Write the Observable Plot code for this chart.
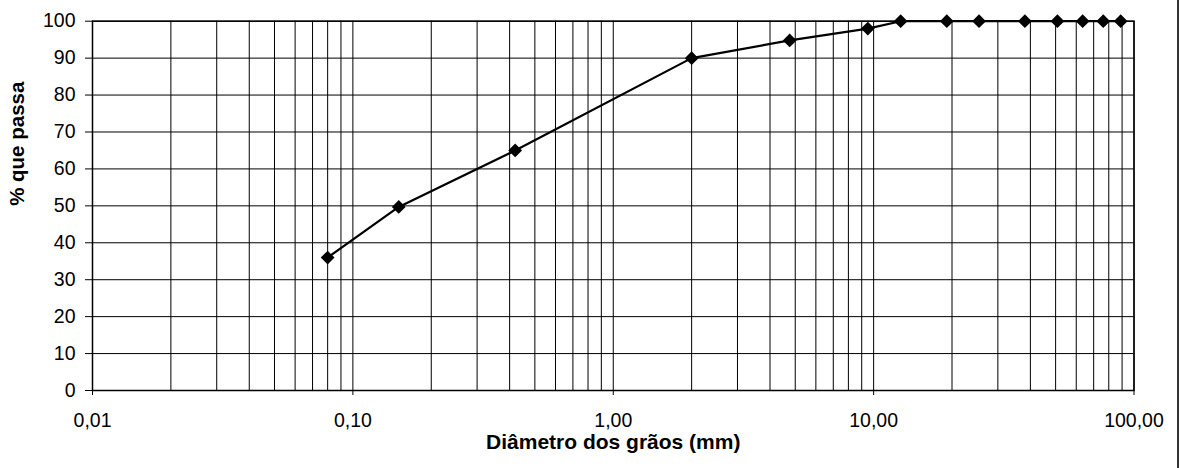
<!DOCTYPE html>
<html>
<head>
<meta charset="utf-8">
<script src="https://cdn.jsdelivr.net/npm/d3@7"></script>
<script src="https://cdn.jsdelivr.net/npm/@observablehq/plot@0.6"></script>
<style>
  html, body { margin: 0; padding: 0; background: #fff; }
  #wrap { position: relative; width: 1180px; height: 468px; overflow: hidden; }
  #edge { position: absolute; left: 1177px; top: 0; width: 2px; height: 468px; background: #333; }
</style>
</head>
<body>
<div id="wrap"><div id="edge"></div></div>
<script>
// Data (grain size in mm, % passing)
const sizes   = [0.08, 0.15, 0.42, 2.0, 4.76, 9.5, 12.7, 19.1, 25.4, 38.1, 50.8, 63.5, 76.2, 88.9];
const passing = [36, 49.7, 65, 90, 94.8, 98, 100, 100, 100, 100, 100, 100, 100, 100];

const xTicks = [0.01, 0.1, 1, 10, 100];
const xTickLabels = ["0,01", "0,10", "1,00", "10,00", "100,00"];
const yTicks = [0, 10, 20, 30, 40, 50, 60, 70, 80, 90, 100];
const xTitle = "Diâmetro dos grãos (mm)";
const yTitle = "% que passa";

const data = sizes.map((s, i) => ({size: s, pass: passing[i]}));

// log-scale grid lines (1..9 x each decade)
const xGrid = [];
for (const d of xTicks.slice(0, -1)) for (let k = 1; k <= 9; k++) xGrid.push(k * d);
xGrid.push(100);

const chart = Plot.plot({
  width: 1180,
  height: 468,
  marginLeft: 92,
  marginRight: 46.5,
  marginTop: 20.7,
  marginBottom: 78,
  x: {type: "log", domain: [0.01, 100]},
  y: {domain: [0, 100]},
  style: {fontFamily: "'Liberation Sans', Arial, sans-serif", fontSize: "19.5px", color: "#000", background: "transparent"},
  marks: [
    Plot.ruleX(xGrid, {stroke: "#000", strokeWidth: 1}),
    Plot.ruleY(yTicks, {stroke: "#000", strokeWidth: 1}),
    Plot.frame({stroke: "#000", strokeWidth: 1.5}),
    Plot.axisY({ticks: yTicks, tickSize: 7, tickPadding: 10, label: null, fontSize: 19.5}),
    Plot.axisX({ticks: xTicks, tickFormat: d => xTickLabels[xTicks.indexOf(d)], tickSize: 5, tickPadding: 18, label: null, fontSize: 19.5}),
    Plot.line(data, {x: "size", y: "pass", stroke: "#000", strokeWidth: 2.2}),
    Plot.dot(data, {x: "size", y: "pass", symbol: "diamond2", r: 6.2, fill: "#000", stroke: "none"}),
    Plot.text([xTitle], {frameAnchor: "bottom", dy: 58, fontWeight: "bold", fontSize: 21}),
    Plot.text([yTitle], {frameAnchor: "left", dx: -75, rotate: -90, fontWeight: "bold", fontSize: 20.5})
  ]
});
document.getElementById("wrap").prepend(chart);
</script>
</body>
</html>
